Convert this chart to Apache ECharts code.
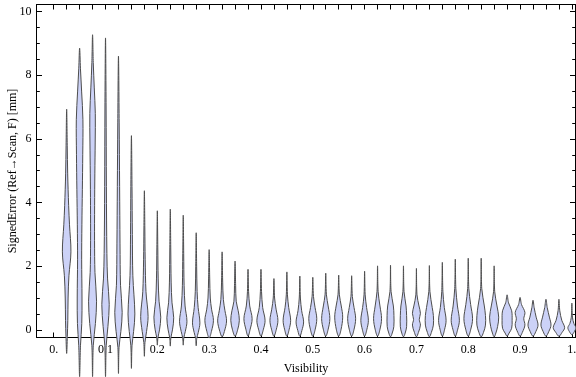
<!DOCTYPE html>
<html>
<head>
<meta charset="utf-8">
<script src="https://cdn.jsdelivr.net/npm/echarts@6/dist/echarts.min.js"></script>
<style>
  html, body { margin: 0; background: #fff; }
  #main { width: 576px; height: 377px; }
</style>
</head>
<body>
<div id="main"></div>
<script>
// bin centres on the Visibility axis
const visibility = [
  0.025, 0.05, 0.075, 0.1, 0.125, 0.15, 0.175, 0.2, 0.225, 0.25,
  0.275, 0.3, 0.325, 0.35, 0.375, 0.4, 0.425, 0.45, 0.475, 0.5,
  0.525, 0.55, 0.575, 0.6, 0.625, 0.65, 0.675, 0.7, 0.725, 0.75,
  0.775, 0.8, 0.825, 0.85, 0.875, 0.9, 0.925, 0.95, 0.975, 1.0
]

// density profile of each violin: [signed error, relative density], top to bottom
const profiles = [
  [[6.93,0],[5.8,0.1],[4.9,0.18],[3.9,0.35],[3.3,0.5],[2.45,0.75],[1.7,0.4],[1.0,0.25],[0.3,0.2],[-0.2,0.12],[-0.74,0]],
  [[8.85,0],[8.2,0.15],[7.5,0.35],[6.6,0.58],[5.5,0.55],[4.4,0.48],[3.3,0.4],[2.2,0.36],[1.0,0.42],[0.2,0.38],[-0.5,0.15],[-1.47,0]],
  [[9.27,0],[8.4,0.12],[7.6,0.3],[6.8,0.48],[5.9,0.46],[4.9,0.4],[3.9,0.36],[2.8,0.35],[1.8,0.42],[0.9,0.7],[0.2,0.5],[-0.5,0.12],[-1.47,0]],
  [[9.17,0],[7,0.1],[4.5,0.15],[2.4,0.24],[1.6,0.36],[0.8,0.65],[0.1,0.42],[-0.5,0.12],[-1.47,0]],
  [[8.6,0],[6.5,0.12],[4.5,0.2],[2.7,0.27],[1.4,0.36],[0.55,0.65],[-0.05,0.42],[-0.55,0.1],[-1.37,0]],
  [[6.1,0],[4.5,0.1],[3.0,0.16],[1.7,0.25],[0.5,0.6],[-0.05,0.38],[-0.5,0.1],[-1.21,0]],
  [[4.37,0],[3.2,0.08],[2.2,0.14],[1.2,0.28],[0.42,0.65],[-0.05,0.38],[-0.4,0.1],[-0.83,0]],
  [[3.74,0],[2.6,0.08],[1.6,0.15],[0.9,0.3],[0.4,0.6],[0,0.38],[-0.25,0.1],[-0.48,0]],
  [[3.79,0],[2.6,0.08],[1.5,0.15],[0.85,0.3],[0.38,0.6],[0,0.38],[-0.25,0.1],[-0.51,0]],
  [[3.6,0],[2.4,0.08],[1.4,0.15],[0.75,0.32],[0.27,0.65],[-0.05,0.36],[-0.25,0.1],[-0.48,0]],
  [[3.05,0],[2.0,0.08],[1.2,0.16],[0.7,0.34],[0.22,0.65],[-0.08,0.36],[-0.27,0.1],[-0.5,0]],
  [[2.52,0],[1.6,0.1],[1.0,0.2],[0.65,0.42],[0.3,0.75],[-0.05,0.4],[-0.25,0]],
  [[2.45,0],[1.5,0.1],[0.95,0.22],[0.6,0.5],[0.28,0.78],[-0.05,0.4],[-0.22,0]],
  [[2.16,0],[1.4,0.1],[0.9,0.2],[0.6,0.55],[0.3,0.75],[0,0.45],[-0.2,0]],
  [[1.9,0],[1.2,0.1],[0.75,0.3],[0.35,0.72],[0,0.35],[-0.2,0]],
  [[1.9,0],[1.2,0.1],[0.7,0.3],[0.3,0.72],[0,0.4],[-0.2,0]],
  [[1.61,0],[1.0,0.12],[0.65,0.38],[0.3,0.7],[0,0.4],[-0.2,0]],
  [[1.82,0],[1.1,0.1],[0.7,0.32],[0.3,0.66],[0,0.38],[-0.2,0]],
  [[1.69,0],[1.0,0.1],[0.6,0.32],[0.25,0.66],[-0.02,0.36],[-0.2,0]],
  [[1.65,0],[1.05,0.12],[0.7,0.4],[0.35,0.7],[0,0.4],[-0.2,0]],
  [[1.78,0],[1.1,0.12],[0.75,0.42],[0.35,0.72],[0,0.4],[-0.2,0]],
  [[1.72,0],[1.1,0.12],[0.75,0.45],[0.4,0.7],[0,0.4],[-0.2,0]],
  [[1.7,0],[1.05,0.12],[0.7,0.42],[0.35,0.7],[0,0.4],[-0.2,0]],
  [[1.84,0],[1.1,0.1],[0.7,0.35],[0.3,0.66],[0,0.38],[-0.2,0]],
  [[2.01,0],[1.2,0.1],[0.75,0.42],[0.35,0.7],[0,0.4],[-0.2,0]],
  [[2.03,0],[1.2,0.1],[0.75,0.5],[0.45,0.6],[0.1,0.58],[-0.1,0.3],[-0.22,0]],
  [[2.01,0],[1.2,0.1],[0.75,0.45],[0.45,0.55],[0.1,0.55],[-0.1,0.3],[-0.22,0]],
  [[1.93,0],[1.1,0.1],[0.75,0.45],[0.52,0.7],[0.33,0.5],[0.15,0.7],[-0.08,0.35],[-0.22,0]],
  [[2.02,0],[1.2,0.1],[0.7,0.5],[0.45,0.7],[0.15,0.7],[-0.08,0.35],[-0.22,0]],
  [[2.12,0],[1.2,0.1],[0.7,0.35],[0.3,0.66],[0,0.38],[-0.2,0]],
  [[2.22,0],[1.3,0.1],[0.75,0.38],[0.3,0.72],[0,0.4],[-0.2,0]],
  [[2.25,0],[1.3,0.1],[0.8,0.42],[0.35,0.76],[0,0.42],[-0.2,0]],
  [[2.25,0],[1.3,0.1],[0.75,0.55],[0.45,0.75],[0.15,0.75],[-0.08,0.4],[-0.22,0]],
  [[2.01,0],[1.2,0.1],[0.75,0.5],[0.4,0.8],[0.1,0.6],[-0.1,0.3],[-0.22,0]],
  [[1.1,0],[0.85,0.25],[0.6,0.8],[0.3,0.88],[0.05,0.8],[-0.1,0.35],[-0.2,0]],
  [[1.02,0],[0.8,0.25],[0.55,0.85],[0.35,0.65],[0.15,0.85],[-0.08,0.4],[-0.2,0]],
  [[0.93,0],[0.7,0.2],[0.4,0.55],[0.15,0.88],[-0.05,0.5],[-0.2,0]],
  [[0.96,0],[0.7,0.22],[0.4,0.6],[0.15,0.88],[-0.05,0.5],[-0.2,0]],
  [[0.96,0],[0.6,0.15],[0.3,0.5],[0.07,1.0],[-0.08,0.55],[-0.2,0]],
  [[0.84,0],[0.4,0.1],[0.2,0.35],[0.07,0.7],[-0.05,0.45],[-0.15,0]]
]

// ticks
const xTickValues = [0, 0.1, 0.2, 0.3, 0.4, 0.5, 0.6, 0.7, 0.8, 0.9, 1]
const xTickLabels = ['0.', '0.1', '0.2', '0.3', '0.4', '0.5', '0.6', '0.7', '0.8', '0.9', '1.']
const xMinorTicks = Array.from({ length: 41 }, (_, i) => +(i * 0.025).toFixed(3))
const yTickValues = [0, 2, 4, 6, 8, 10]
const yMinorTicks = Array.from({ length: 21 }, (_, i) => i * 0.5)

const FONT = 'Liberation Serif'
const VIOLIN_HALF = 0.011 // x-units for density 1

const chart = echarts.init(document.getElementById('main'))

const X_MIN = -0.0332, X_MAX = 1.007
const Y_MIN = -0.24, Y_MAX = 10.22

function xAxisCfg(pos, labels) {
  return {
    type: 'value', position: pos, min: X_MIN, max: X_MAX,
    axisLine: { onZero: false, lineStyle: { color: '#000', width: 1 } },
    axisTick: { inside: true, length: 5, customValues: xMinorTicks, lineStyle: { color: '#000' } },
    axisLabel: labels ? {
      customValues: xTickValues, margin: 6, color: '#000', fontFamily: FONT, fontSize: 12,
      formatter: v => xTickLabels[xTickValues.findIndex(t => Math.abs(t - v) < 1e-6)]
    } : { show: false },
    splitLine: { show: false }
  }
}

function yAxisCfg(pos, ticks, len, labels, line) {
  return {
    type: 'value', position: pos, min: Y_MIN, max: Y_MAX,
    axisLine: { show: line, onZero: false, lineStyle: { color: '#000', width: 1 } },
    axisTick: { inside: true, length: len, customValues: ticks, lineStyle: { color: '#000' } },
    axisLabel: labels ? {
      customValues: yTickValues, margin: 5, color: '#000', fontFamily: FONT, fontSize: 12
    } : { show: false },
    splitLine: { show: false }
  }
}

const xa = xAxisCfg('bottom', true)
xa.name = 'Visibility'
xa.nameLocation = 'middle'
xa.nameGap = 25
xa.nameMoveOverlap = false
xa.nameTextStyle = { color: '#000', fontFamily: FONT, fontSize: 12 }

const ya = yAxisCfg('left', yTickValues, 5.5, true, true)
ya.name = 'SignedError (Ref\u2192Scan, F) [mm]'
ya.nameLocation = 'middle'
ya.nameGap = 18
ya.nameMoveOverlap = false
ya.nameTextStyle = { color: '#000', fontFamily: FONT, fontSize: 12 }

const option = {
  animation: false,
  backgroundColor: '#fff',
  grid: { left: 36.5, right: 0.5, top: 4.5, bottom: 39.5, containLabel: false, outerBoundsMode: 'none' },
  xAxis: [xa, xAxisCfg('top', false)],
  yAxis: [
    ya,
    yAxisCfg('right', yTickValues, 5.5, false, true),
    yAxisCfg('left', yMinorTicks, 3.3, false, false),
    yAxisCfg('right', yMinorTicks, 3.3, false, false)
  ],
  series: [{
    type: 'custom',
    xAxisIndex: 0,
    yAxisIndex: 0,
    clip: false,
    data: visibility.map((v, i) => [v, i]),
    renderItem: (params, api) => {
      const x = api.value(0)
      const knots = profiles[api.value(1)]
      const half = api.size([VIOLIN_HALF, 0])[0]
      const right = knots.map(([v, d]) => {
        const p = api.coord([x, v])
        return [p[0] + d * half, p[1]]
      })
      const left = knots.slice(1, -1).reverse().map(([v, d]) => {
        const p = api.coord([x, v])
        return [p[0] - d * half, p[1]]
      })
      return {
        type: 'polygon',
        shape: { points: right.concat(left), smooth: 0.35 },
        style: { fill: '#ccd2f7', stroke: '#4d4d4d', lineWidth: 1 }
      }
    }
  }]
}

chart.setOption(option)
</script>
</body>
</html>
